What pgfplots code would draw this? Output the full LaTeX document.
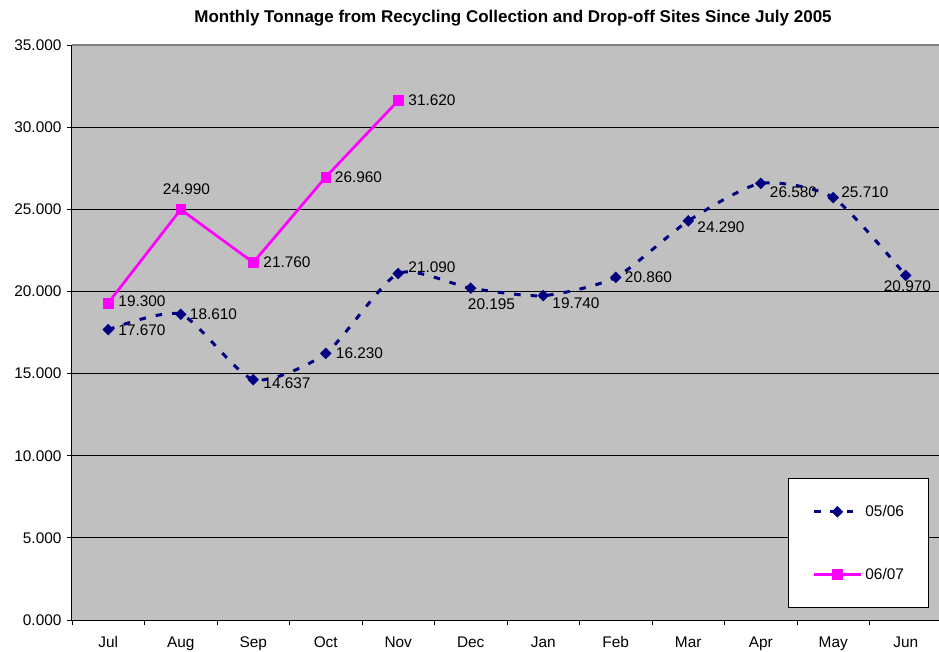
\documentclass[border=0pt]{standalone}
\usepackage{fontspec}
\setmainfont{Liberation Sans}
\usepackage{pgfplots}
\usepackage{pgfplotstable}
\pgfplotsset{compat=1.18}
\definecolor{navy}{HTML}{000080}
\definecolor{mag}{HTML}{FF00FF}
\definecolor{bg}{HTML}{C0C0C0}
\definecolor{topgray}{HTML}{808080}

\pgfplotstableread{
x y
0 17.670
1 18.610
2 14.637
3 16.230
4 21.090
5 20.195
6 19.740
7 20.860
8 24.290
9 26.580
10 25.710
11 20.970
}\seriesA
\pgfplotstableread{
x y
0 19.300
1 24.990
2 21.760
3 26.960
4 31.620
}\seriesB

\begin{document}
\begin{tikzpicture}[x=1pt,y=1pt]
\begin{axis}[
  at={(0pt,0pt)}, anchor=south west,
  scale only axis, width=867pt, height=575pt,
  xmin=-0.5, xmax=11.459, ymin=0, ymax=35,
  clip=false,
  axis background/.style={fill=bg},
  axis x line*=bottom, axis y line*=left,
  axis line style={black, line width=1pt},
  tick align=outside,
  xtick={0,...,11},
  xticklabels={Jul,Aug,Sep,Oct,Nov,Dec,Jan,Feb,Mar,Apr,May,Jun},
  minor xtick={-0.5,0.5,...,10.5},
  major x tick style={draw=none},
  minor x tick style={black, line width=0.8pt},
  minor tick length=5pt,
  major tick length=5pt,
  ytick={0,5,...,30},
  yticklabels={0.000,5.000,10.000,15.000,20.000,25.000,30.000},
  extra y ticks={35},
  extra y tick labels={35.000},
  extra y tick style={grid style={topgray, line width=1.6pt}},
  ytick style={black, line width=0.8pt},
  ymajorgrids,
  grid style={black, line width=0.8pt},
  ticklabel style={font=\fontsize{15.4}{18}\selectfont, text=black},
  xticklabel style={yshift=-8pt},
  yticklabel style={xshift=-2pt},
  legend style={at={(rel axis cs:0.8258,0.2470)}, anchor=north west,
    draw=black, fill=white, line width=0.8pt,
    inner xsep=24pt, inner ysep=27pt, row sep=50pt, column sep=3pt,
    nodes={inner sep=0pt}, font=\fontsize{15.4}{18}\selectfont},
  legend cell align=left,
  legend image code/.code={\draw[mark repeat=2,mark phase=2,#1] plot coordinates {(0pt,0pt) (23.5pt,0pt) (47pt,0pt)};},
]
\addplot[navy, line width=3pt, dash pattern=on 6.5pt off 10pt, smooth, tension=0.4,
  mark=square*, mark size=3.9pt,
  mark options={solid, rotate=45, fill=navy, draw=navy, line width=0.3pt}] table {\seriesA};
\addlegendentry{05/06}
\addplot[mag, line width=2.7pt,
  mark=square*, mark size=4.9pt,
  mark options={solid, fill=mag, draw=mag, line width=0.3pt}] table {\seriesB};
\addlegendentry{06/07}

\tikzset{lbl/.style={font=\fontsize{15.4}{18}\selectfont, inner sep=0pt, anchor=west, text=black}}
% 05/06 labels
\node[lbl, xshift=10pt] at (axis cs:0,17.670) {17.670};
\node[lbl, xshift=9pt] at (axis cs:1,18.610) {18.610};
\node[lbl, xshift=10pt, yshift=-4pt] at (axis cs:2,14.637) {14.637};
\node[lbl, xshift=10pt] at (axis cs:3,16.230) {16.230};
\node[lbl, xshift=10pt, yshift=6pt] at (axis cs:4,21.090) {21.090};
\node[lbl, xshift=-3pt, yshift=-16pt] at (axis cs:5,20.195) {20.195};
\node[lbl, xshift=9pt, yshift=-7pt] at (axis cs:6,19.740) {19.740};
\node[lbl, xshift=9pt] at (axis cs:7,20.860) {20.860};
\node[lbl, xshift=9pt, yshift=-6pt] at (axis cs:8,24.290) {24.290};
\node[lbl, xshift=9pt, yshift=-9pt] at (axis cs:9,26.580) {26.580};
\node[lbl, xshift=8pt, yshift=5pt] at (axis cs:10,25.710) {25.710};
\node[lbl, xshift=-22pt, yshift=-11pt] at (axis cs:11,20.970) {20.970};
% 06/07 labels
\node[lbl, xshift=10pt, yshift=2pt] at (axis cs:0,19.300) {19.300};
\node[lbl, xshift=-18pt, yshift=20pt] at (axis cs:1,24.990) {24.990};
\node[lbl, xshift=10pt] at (axis cs:2,21.760) {21.760};
\node[lbl, xshift=9pt] at (axis cs:3,26.960) {26.960};
\node[lbl, xshift=10pt] at (axis cs:4,31.620) {31.620};
\end{axis}
\node[font=\fontsize{17}{20}\selectfont\bfseries] at (441,602) {Monthly Tonnage from Recycling Collection and Drop-off Sites Since July 2005};
\pgfresetboundingbox
\useasboundingbox (-72,-31) rectangle (867,620);
\end{tikzpicture}
\end{document}
